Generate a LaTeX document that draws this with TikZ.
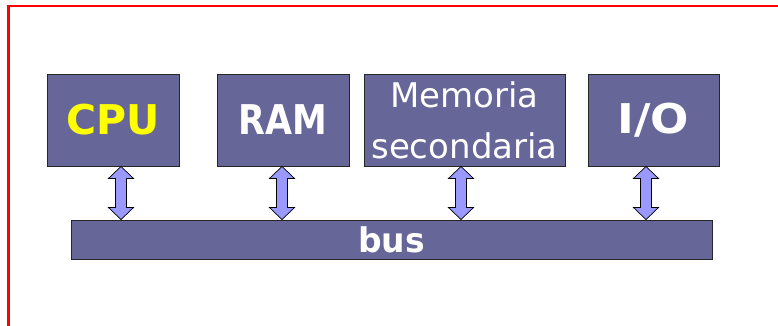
\documentclass[tikz,border=0pt]{standalone}
\usepackage{fontspec}
\usepackage{graphicx}
\setmainfont{DejaVu Sans}
\usetikzlibrary{calc}
\definecolor{boxfill}{HTML}{666699}
\definecolor{arrowfill}{HTML}{9999FF}
\definecolor{cpuyellow}{HTML}{FFFF00}
\tikzset{
  unitbox/.style={draw=black!85, line width=0.9pt, fill=boxfill, inner sep=0pt,
    minimum height=92pt, text=white, font=\bfseries\fontsize{41}{41}\selectfont},
  busbox/.style={draw=black!85, line width=0.9pt, fill=boxfill, inner sep=0pt,
    minimum height=39pt, minimum width=641pt, text=white, font=\bfseries\fontsize{34}{34}\selectfont},
  barrow/.style={draw=black, line width=0.7pt, fill=arrowfill, line join=miter},
  frame/.style={draw=red, line width=2.2pt}
}
\newcommand\busarrow[2]{%
  \draw[barrow] let \p1=($(#1.south)+(#2pt,0)$), \p2=(bus.north) in
    (\x1,\y1) -- (\x1+12.5pt,\y1-12pt) -- (\x1+5.5pt,\y1-12pt) -- (\x1+5.5pt,\y2+12pt)
    -- (\x1+12.5pt,\y2+12pt) -- (\x1,\y2) -- (\x1-12.5pt,\y2+12pt) -- (\x1-5.5pt,\y2+12pt)
    -- (\x1-5.5pt,\y1-12pt) -- (\x1-12.5pt,\y1-12pt) -- cycle;}
\begin{document}
\begin{tikzpicture}[x=1pt,y=-1pt]
\useasboundingbox (0,0) rectangle (778,326);
\fill[white] (0,0) rectangle (778,326);
\draw[frame] (8.5,330) -- (8.5,6) -- (782,6);
\node[unitbox, minimum width=132pt, text=cpuyellow] (cpu) at (113,120) {CPU};
\node[unitbox, minimum width=132pt] (ram) at (283,120) {\scalebox{0.85}[1]{RAM}};
\node[unitbox, minimum width=201pt, font=\fontsize{34}{53}\selectfont, align=center] (mem) at (464.5,120) {Memoria\\[-2pt]secondaria};
\node[unitbox, minimum width=131pt] (io) at (653.5,120) {\scalebox{1.1}[1]{I/O}};
\node[busbox] (bus) at (391.5,239.5) {\scalebox{0.97}[1]{bus}};
\busarrow{cpu}{8}
\busarrow{ram}{-1}
\busarrow{mem}{-3.5}
\busarrow{io}{-7.5}
\end{tikzpicture}
\end{document}
